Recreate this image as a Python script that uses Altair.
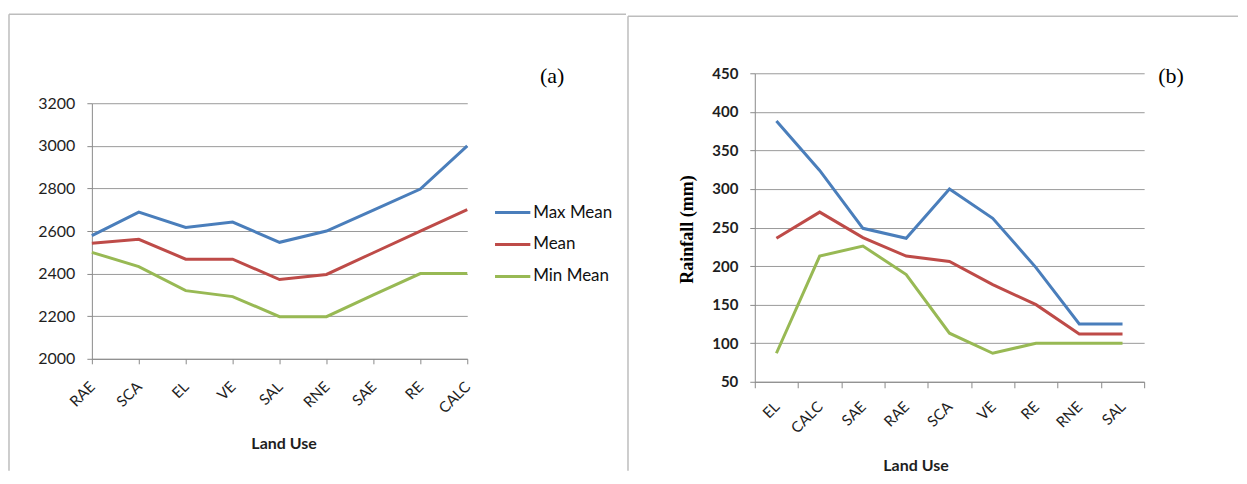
import altair as alt
import pandas as pd

# ---------------- data ----------------
series = ["Max Mean", "Mean", "Min Mean"]
colors = ["#4A7EBB", "#BE4B48", "#98B954"]

cats_a = ["RAE", "SCA", "EL", "VE", "SAL", "RNE", "SAE", "RE", "CALC"]
max_a = [2578, 2689, 2617, 2642, 2547, 2600, 2698, 2797, 3000]
mean_a = [2543, 2561, 2468, 2468, 2372, 2396, 2498, 2600, 2700]
min_a = [2500, 2433, 2320, 2292, 2198, 2198, 2300, 2400, 2400]
ticks_a = [2000, 2200, 2400, 2600, 2800, 3000, 3200]

cats_b = ["EL", "CALC", "SAE", "RAE", "SCA", "VE", "RE", "RNE", "SAL"]
max_b = [388, 324, 249, 236, 300, 262, 198, 125, 125]
mean_b = [236, 270, 237, 213, 206, 176, 150, 112, 112]
min_b = [87, 213, 226, 189, 113, 87, 100, 100, 100]
ticks_b = [50, 100, 150, 200, 250, 300, 350, 400, 450]

panel_labels = ["(a)", "(b)"]
x_title = "Land Use"
y_title_b = "Rainfall (mm)"


def long_table(cats, vals):
    rows = []
    for s, v in zip(series, vals):
        for c, x in zip(cats, v):
            rows.append({"Land Use": c, "value": x, "series": s})
    return pd.DataFrame(rows)


df_a = long_table(cats_a, [max_a, mean_a, min_a])
df_b = long_table(cats_b, [max_b, mean_b, min_b])
one = pd.DataFrame({"k": [0]})

FRAME = "#bdbdbd"
AX = "#8a8a8a"
GRID = "#9a9a9a"
TXT = "#1e1e1e"
FONT = "Lato"


def rule(x, x2=None, y=None, y2=None):
    enc = {"x": alt.value(x), "y": alt.value(y)}
    if x2 is not None:
        enc["x2"] = alt.value(x2)
    if y2 is not None:
        enc["y2"] = alt.value(y2)
    return alt.Chart(one).mark_rule(color=FRAME, strokeWidth=1.5).encode(**enc)


# ---------------- panel (a) ----------------
# plot group spans 286 px high; data occupy the lower 256 px (3200 line 30 px below top)
W1, H1 = 376, 286
lines_a = alt.Chart(df_a).mark_line(strokeWidth=3).encode(
    x=alt.X("Land Use:N", sort=cats_a,
            scale=alt.Scale(type="point", padding=0),
            axis=alt.Axis(title=x_title, titleFont=FONT, titleFontSize=16,
                          titleFontWeight="bold", titleColor=TXT,
                          titleX=192, titleY=85, titleBaseline="middle",
                          labelAngle=315, labelAlign="right", labelBaseline="middle",
                          labelFont=FONT, labelFontSize=15, labelColor=TXT,
                          labelPadding=20, tickSize=5, grid=False,
                          domainColor=AX, tickColor=AX)),
    y=alt.Y("value:Q", scale=alt.Scale(domain=[2000, 3200], range=[H1, 30],
                                       nice=False, zero=False),
            axis=alt.Axis(values=ticks_a, format="d", title=None, grid=True,
                          gridColor=GRID, labelFont=FONT, labelFontSize=16,
                          labelColor=TXT, labelPadding=12, tickSize=5,
                          labelFlush=False, domainColor=AX, tickColor=AX)),
    color=alt.Color("series:N", sort=series,
                    scale=alt.Scale(domain=series, range=colors),
                    legend=alt.Legend(title=None, orient="none", legendX=402, legendY=120,
                                      symbolType="stroke", symbolSize=1250,
                                      symbolStrokeWidth=3, labelFont=FONT,
                                      labelFontSize=17, labelColor="#111111",
                                      labelOffset=1, rowPadding=4, padding=0)),
)
label_a = alt.Chart(one).mark_text(font="Liberation Serif", fontSize=22, color="black").encode(
    x=alt.value(461), y=alt.value(3), text=alt.value(panel_labels[0]))

panel_a = alt.layer(
    rule(-83, 535, -59),          # top edge of frame
    rule(-83, None, -59, 398),    # left edge of frame
    lines_a, label_a,
).properties(width=W1, height=H1)

# ---------------- panel (b) ----------------
W2, H2 = 390, 309
lines_b = alt.Chart(df_b).mark_line(strokeWidth=3).encode(
    x=alt.X("Land Use:N", sort=cats_b,
            scale=alt.Scale(type="band", paddingInner=0, paddingOuter=0),
            axis=alt.Axis(title=x_title, titleFont=FONT, titleFontSize=16,
                          titleFontWeight="bold", titleColor=TXT,
                          titleX=161, titleY=84, titleBaseline="middle",
                          labelAngle=315, labelAlign="right", labelBaseline="middle",
                          labelFont=FONT, labelFontSize=15, labelColor=TXT,
                          labelPadding=16, tickSize=6, tickBand="extent", grid=False,
                          domainColor=AX, tickColor=AX)),
    y=alt.Y("value:Q", scale=alt.Scale(domain=[50, 450], nice=False, zero=False),
            axis=alt.Axis(values=ticks_b, format="d", title=y_title_b,
                          titleFont="Liberation Serif",
                          titleFontSize=18, titleFontWeight="bold", titleColor="black",
                          titleAngle=270, titleX=-67, titleY=156,
                          titleBaseline="middle", titleAlign="center",
                          grid=True, gridColor=GRID,
                          labelFont=FONT, labelFontSize=15, labelFontWeight="bold",
                          labelColor=TXT, labelPadding=12, tickSize=5, labelFlush=False,
                          domainColor=AX, tickColor=AX)),
    color=alt.Color("series:N", sort=series,
                    scale=alt.Scale(domain=series, range=colors), legend=None),
)
label_b = alt.Chart(one).mark_text(font="Liberation Serif", fontSize=22, color="black").encode(
    x=alt.value(417), y=alt.value(3), text=alt.value(panel_labels[1]))

panel_b = alt.layer(
    rule(-127, 484, -57),                # top edge of frame
    rule(-127, None, -57, 398),          # left edge of frame
    lines_b, label_b,
).properties(width=W2, height=H2)

chart = alt.hconcat(panel_a, panel_b, spacing=0).resolve_scale(
    color="independent", x="independent", y="independent"
).properties(
    padding={"left": 0, "top": 5, "right": 0, "bottom": 0},
    background="white",
).configure_view(stroke=None)

chart.save("out.html", embed_options={"renderer": "svg", "actions": False})
